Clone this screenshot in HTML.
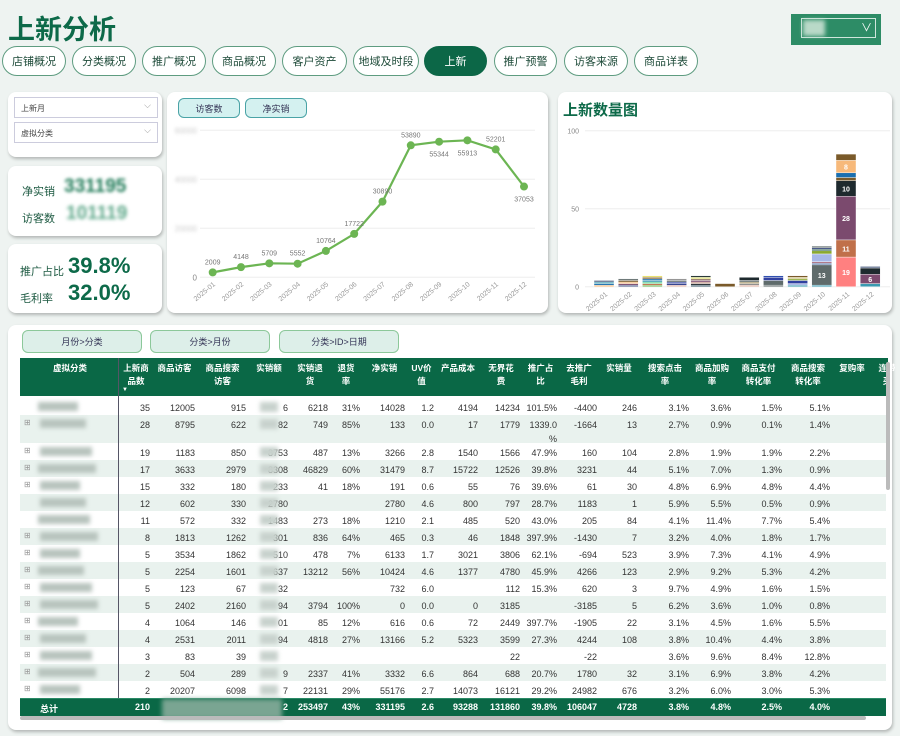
<!DOCTYPE html>
<html><head><meta charset="utf-8"><style>
*{box-sizing:border-box;margin:0;padding:0}
body{width:900px;height:736px;background:#eef3f1;font-family:"Liberation Sans","Noto Sans CJK SC",sans-serif;position:relative;overflow:hidden;color:#333}
.abs{position:absolute}
.card{position:absolute;background:#fff;border-radius:8px;box-shadow:1px 2px 3px rgba(0,0,0,.25)}
.pill{position:absolute;top:46px;height:30px;border:1px solid #5e9c80;border-radius:15px;background:#fff;font-size:11px;color:#1d4a38;display:flex;align-items:center;justify-content:center}
.pill.on{background:#0c6747;color:#fff;border-color:#0c6747}
.slicer{position:absolute;left:14px;width:144px;height:21px;border:1px solid #ccd;font-size:8px;color:#444;padding:5px 6px;background:#fff}
.slicer:after{content:"⌵";position:absolute;right:6px;top:2px;color:#999;font-size:9px}
.btn{position:absolute;border:1.5px solid #4aa3a6;background:#d4f1f0;border-radius:6px;font-size:9px;color:#335;display:flex;align-items:center;justify-content:center}
.tb{position:absolute;top:330px;height:23px;border:1.5px solid #8cc89a;background:#ddefe9;border-radius:6px;font-size:9px;color:#335;display:flex;align-items:center;justify-content:center}
.cell{position:absolute;font-size:9px;white-space:nowrap;text-align:right}
.hcell{position:absolute;font-size:8.5px;font-weight:bold;color:#fff;text-align:center;line-height:13px}
.blur{filter:blur(2px)}
</style></head><body>
<div class="abs" style="left:8px;top:8px;font-size:27px;font-weight:bold;color:#0d6a49">上新分析</div>
<div class="abs" style="left:791px;top:14px;width:90px;height:31px;background:#2d8c66;">
 <div class="abs" style="left:10px;top:4px;width:75px;height:20px;border:1px solid #cfe6dc"></div>
 <div class="abs blur" style="left:12px;top:6px;width:22px;height:16px;background:#b9d9c8"></div>
 <div class="abs" style="left:70px;top:5px;color:#fff;font-size:11px">∨</div>
</div>
<div class="pill" style="left:2px;width:64px">店铺概况</div>
<div class="pill" style="left:72px;width:64px">分类概况</div>
<div class="pill" style="left:142px;width:64px">推广概况</div>
<div class="pill" style="left:212px;width:64px">商品概况</div>
<div class="pill" style="left:282px;width:65px">客户资产</div>
<div class="pill" style="left:353px;width:66px">地域及时段</div>
<div class="pill on" style="left:424px;width:63px">上新</div>
<div class="pill" style="left:494px;width:63px">推广预警</div>
<div class="pill" style="left:564px;width:64px">访客来源</div>
<div class="pill" style="left:634px;width:64px">商品详表</div>

<div class="card" style="left:8px;top:92px;width:154px;height:65px"></div>
<div class="slicer" style="top:97px">上新月</div>
<div class="slicer" style="top:122px">虚拟分类</div>

<div class="card" style="left:8px;top:166px;width:154px;height:70px">
 <div class="abs" style="left:14px;top:17px;font-size:11px;color:#1d5a42">净实销</div>
 <div class="abs blur" style="left:56px;top:10px;font-size:19px;font-weight:bold;color:#1f7a57;filter:blur(1.6px)">331195</div>
 <div class="abs" style="left:14px;top:44px;font-size:11px;color:#1d5a42">访客数</div>
 <div class="abs blur" style="left:58px;top:37px;font-size:19px;font-weight:bold;color:#5fa88a;filter:blur(1.8px)">101119</div>
</div>
<div class="card" style="left:8px;top:244px;width:154px;height:69px">
 <div class="abs" style="left:12px;top:19px;font-size:11px;color:#1d5a42">推广占比</div>
 <div class="abs" style="left:60px;top:9px;font-size:22px;font-weight:bold;color:#0d6a49">39.8%</div>
 <div class="abs" style="left:12px;top:46px;font-size:11px;color:#1d5a42">毛利率</div>
 <div class="abs" style="left:60px;top:36px;font-size:22px;font-weight:bold;color:#0d6a49">32.0%</div>
</div>

<div class="card" style="left:167px;top:92px;width:381px;height:221px"></div>
<div class="btn" style="left:178px;top:98px;width:62px;height:20px">访客数</div>
<div class="btn" style="left:245px;top:98px;width:62px;height:20px">净实销</div>
<svg id="line" class="abs" style="left:0;top:0" width="900" height="736"></svg>

<div class="card" style="left:558px;top:92px;width:334px;height:221px"></div>
<div class="abs" style="left:563px;top:99px;font-size:15px;font-weight:bold;color:#0d6a49">上新数量图</div>
<svg id="bar" class="abs" style="left:0;top:0" width="900" height="736"></svg>

<div class="card" style="left:8px;top:325px;width:884px;height:405px"></div>
<div class="tb" style="left:22px;width:120px">月份&gt;分类</div>
<div class="tb" style="left:150px;width:120px">分类&gt;月份</div>
<div class="tb" style="left:279px;width:120px">分类&gt;ID&gt;日期</div>
<div id="tbl" class="abs" style="left:0;top:0;width:900px;height:736px"></div>

<script>
const NS="http://www.w3.org/2000/svg";
function mk(svg,tag,attrs,txt){const e=document.createElementNS(NS,tag);for(const k in attrs)e.setAttribute(k,attrs[k]);if(txt!==undefined)e.textContent=txt;svg.appendChild(e);return e;}

// ---- line chart data
const lineMonths=["2025-01","2025-02","2025-03","2025-04","2025-05","2025-06","2025-07","2025-08","2025-09","2025-10","2025-11","2025-12"];
const lineValues=[2009,4148,5709,5552,10764,17722,30890,53890,55344,55913,52201,37053];
const lineTicks=[0,20000,40000,60000];
const labelBelow=[false,false,false,false,false,false,false,false,true,true,false,true];
(function(){
 const s=document.getElementById('line');
 const x=i=>212.7+i*28.3, y=v=>277.3-v/20000*49;
 lineTicks.forEach(t=>{
  const g=mk(s,'line',{x1:200,x2:535,y1:y(t),y2:y(t),stroke:'#eee','stroke-width':1});
  
  const tx=mk(s,'text',{x:197,y:y(t)+3,'font-size':8,fill:t?'#ccc':'#888','text-anchor':'end',style:t?'filter:blur(1.5px)':''},String(t));
  
 });
 const pts=lineValues.map((v,i)=>x(i)+','+y(v)).join(' ');
 const pl=mk(s,'polyline',{points:pts,fill:'none',stroke:'#6cb553','stroke-width':2.2});
 
 lineValues.forEach((v,i)=>{
  const c=mk(s,'circle',{cx:x(i),cy:y(v),r:4,fill:'#6cb553'});
  
  const ly=labelBelow[i]?y(v)+15:y(v)-8;
  const t=mk(s,'text',{x:x(i),y:ly,'font-size':7,fill:'#777','text-anchor':'middle'},String(v));
  
  const xl=mk(s,'text',{x:x(i)+3,y:285,'font-size':7,fill:'#999','text-anchor':'end',transform:`rotate(-40 ${x(i)+3} 285)`},lineMonths[i]);
  
 });
})();

// ---- bar chart data
const barMonths=["2025-01","2025-02","2025-03","2025-04","2025-05","2025-06","2025-07","2025-08","2025-09","2025-10","2025-11","2025-12"];
const barTicks=[0,50,100];
const barSegments=[[1,1,1,1],[1,1,1,1,1],[1,1,1,1,1,1,1],[1,1,1,1,1],[1,1,1,1,1,1,1],[2],[1,1,1,1,2],[1,3,2,1],[1,1,2,1,1,1],[1,13,1,1,5,2,1,1,1],[19,11,28,10,2,3,8,4],[2,6,4,1]];
const barColors=[["#f7b97a","#1a6fb0","#3a9ab0","#5a6a8a"],["#4a5a8a","#7b4a6e","#f7b97a","#7a5a2a","#5f6b6b"],["#6cb553","#c0704a","#57d08a","#3a9ab0","#1a6fb0","#7a5a2a","#e8e070"],["#e0b0a0","#2b3a8a","#3040a0","#5f6b6b","#8a8a8a"],["#3a5a6a","#1e2a2e","#c09080","#7b4a6e","#8a6a5a","#e0e070","#2b3a3a"],["#7a5a2a"],["#e0b0a0","#8a8a8a","#a09060","#5f6b6b","#1e2a2e"],["#5f6b6b","#5f6b6b","#3040a0","#3050b0"],["#3a9ab0","#a7b7e8","#3040a0","#8aa830","#d0c080","#7a5a2a"],["#3a9ab0","#5f6b6b","#5a7aaa","#b07a8a","#a7b7e8","#8aa830","#2b5e4a","#4a5a8a","#5f6b6b"],["#ff8080","#c0704a","#7b4a6e","#1e2a2e","#7a5a2a","#1a6fb0","#f7b97a","#7a5a2a"],["#3a9ab0","#7b4a6e","#1e2a2e","#5a6a8a"]];
(function(){
 const s=document.getElementById('bar');
 const x=i=>604+i*24.2, y=v=>286.7-v*1.56;
 barTicks.forEach(t=>{
  const g=mk(s,'line',{x1:585,x2:890,y1:y(t),y2:y(t),stroke:'#eee','stroke-width':1});
  
  const tx=mk(s,'text',{x:579,y:y(t)+3,'font-size':7,fill:'#888','text-anchor':'end'},String(t));
  
 });
 barSegments.forEach((segs,i)=>{
  let acc=0;
  segs.forEach((v,j)=>{
   const r=mk(s,'rect',{x:x(i)-10,y:y(acc+v),width:20,height:v*1.56,fill:barColors[i][j],stroke:'#fff','stroke-width':0.4});
   
   if(v>=6){const t=mk(s,'text',{x:x(i),y:y(acc+v/2)+3,'font-size':7,'font-weight':'bold',fill:'#fff','text-anchor':'middle'},String(v));
    }
   acc+=v;
  });
  const xl=mk(s,'text',{x:x(i)+4,y:295,'font-size':7,fill:'#999','text-anchor':'end',transform:`rotate(-40 ${x(i)+4} 295)`},barMonths[i]);
  
 });
})();

// ---- table
const colRights=[150,195,246,288,328,360,405,434,478,520,557,597,637,689,731,782,830,870,900];
const headers=["上新商\n品数","商品访客","商品搜索\n访客","实销额","实销退\n货","退货\n率","净实销","UV价\n值","产品成本","无界花\n费","推广占\n比","去推广\n毛利","实销量","搜索点击\n率","商品加购\n率","商品支付\n转化率","商品搜索\n转化率","复购率","连带\n买"];
const rows=[
["35","12005","915","6","6218","31%","14028","1.2","4194","14234","101.5%","-4400","246","3.1%","3.6%","1.5%","5.1%"],
["28","8795","622","82","749","85%","133","0.0","17","1779","1339.0\n%","-1664","13","2.7%","0.9%","0.1%","1.4%"],
["19","1183","850","8753","487","13%","3266","2.8","1540","1566","47.9%","160","104","2.8%","1.9%","1.9%","2.2%"],
["17","3633","2979","8308","46829","60%","31479","8.7","15722","12526","39.8%","3231","44","5.1%","7.0%","1.3%","0.9%"],
["15","332","180","233","41","18%","191","0.6","55","76","39.6%","61","30","4.8%","6.9%","4.8%","4.4%"],
["12","602","330","2780","","","2780","4.6","800","797","28.7%","1183","1","5.9%","5.5%","0.5%","0.9%"],
["11","572","332","1483","273","18%","1210","2.1","485","520","43.0%","205","84","4.1%","11.4%","7.7%","5.4%"],
["8","1813","1262","301","836","64%","465","0.3","46","1848","397.9%","-1430","7","3.2%","4.0%","1.8%","1.7%"],
["5","3534","1862","510","478","7%","6133","1.7","3021","3806","62.1%","-694","523","3.9%","7.3%","4.1%","4.9%"],
["5","2254","1601","637","13212","56%","10424","4.6","1377","4780","45.9%","4266","123","2.9%","9.2%","5.3%","4.2%"],
["5","123","67","32","","","732","6.0","","112","15.3%","620","3","9.7%","4.9%","1.6%","1.5%"],
["5","2402","2160","94","3794","100%","0","0.0","0","3185","","-3185","5","6.2%","3.6%","1.0%","0.8%"],
["4","1064","146","01","85","12%","616","0.6","72","2449","397.7%","-1905","22","3.1%","4.5%","1.6%","5.5%"],
["4","2531","2011","94","4818","27%","13166","5.2","5323","3599","27.3%","4244","108","3.8%","10.4%","4.4%","3.8%"],
["3","83","39","","","","","","","22","","-22","","3.6%","9.6%","8.4%","12.8%"],
["2","504","289","9","2337","41%","3332","6.6","864","688","20.7%","1780","32","3.1%","6.9%","3.8%","4.2%"],
["2","20207","6098","7","22131","29%","55176","2.7","14073","16121","29.2%","24982","676","3.2%","6.0%","3.0%","5.3%"]];
const total=["210","","","2","253497","43%","331195","2.6","93288","131860","39.8%","106047","4728","3.8%","4.8%","2.5%","4.0%"];
(function(){
 const T=document.getElementById('tbl');
 function div(css,txt,name,inter){const d=document.createElement('div');d.style.cssText=css;if(txt!==undefined)d.textContent=txt;
  
  
  T.appendChild(d);return d;}
 div('position:absolute;left:20px;top:358px;width:868px;height:38px;background:#0a6846','', 'table-header',false);
 div('position:absolute;left:22px;top:362px;width:96px;font-size:8.5px;font-weight:bold;color:#fff;text-align:center','虚拟分类','header-category',true);
 headers.forEach((h,i)=>{const l=i?colRights[i-1]:118;const w=colRights[i]-l+4;
  const d=div(`position:absolute;left:${l}px;top:362px;width:${w}px;font-size:8.5px;font-weight:bold;color:#fff;text-align:center;line-height:13px;white-space:pre;overflow:hidden`,h,'header-col',true);});
 div('position:absolute;left:122px;top:387px;font-size:6px;color:#fff','▼','sort-arrow',true);
 let top=398;
 rows.forEach((r,ri)=>{
  const h=ri===1?28:17;
  div(`position:absolute;left:20px;top:${top}px;width:866px;height:${h}px;background:${ri%2?'#e9f2ee':'#fff'}`,'','table-row',true);
  div(`position:absolute;left:${ri%3===0?38:40}px;top:${top+4}px;width:${40+ri%4*6}px;height:9px;background:#b8c4be;filter:blur(2.2px)`,'','category-name-blurred',false);
  if(ri>0&&ri!==5&&ri!==6) div(`position:absolute;left:24px;top:${top+3}px;font-size:8px;color:#999`,'⊞','expand-icon',true);
  r.forEach((v,ci)=>{
   const right=900-colRights[ci];
   const blurry=ci===3;
   div(`position:absolute;right:${right}px;top:${top+3}px;font-size:9px;color:#333;text-align:right;white-space:pre;line-height:14px${blurry?'':''}`,v,'cell',false);
   if(blurry) div(`position:absolute;left:${colRights[2]+14}px;top:${top+4}px;width:18px;height:10px;background:#c8d2cd;filter:blur(2px)`,'','cell-blur',false);
  });
  top+=h;
 });
 div('position:absolute;left:118px;top:358px;width:1px;height:358px;background:#556','', 'column-divider',false);
 div(`position:absolute;left:20px;top:${top}px;width:866px;height:18px;background:#0a6846;border-top:1px solid #2a8a66`,'','total-row',false);
 div(`position:absolute;left:40px;top:${top+4}px;font-size:9px;font-weight:bold;color:#fff`,'总计','total-label',false);
 total.forEach((v,ci)=>{div(`position:absolute;right:${900-colRights[ci]}px;top:${top+4}px;font-size:9px;font-weight:bold;color:#fff`,v,'total-cell',false);});
 div(`position:absolute;left:162px;top:${top+1}px;width:120px;height:20px;background:#7aa592;filter:blur(2.5px)`,'','total-blur',false);
 div(`position:absolute;left:20px;top:${top+18}px;width:846px;height:4px;background:#bbb;border-radius:2px`,'','horizontal-scrollbar',true);
 div('position:absolute;left:886px;top:362px;width:4px;height:128px;background:#bbb;border-radius:2px','','vertical-scrollbar',true);
})();
</script>
</body></html>
